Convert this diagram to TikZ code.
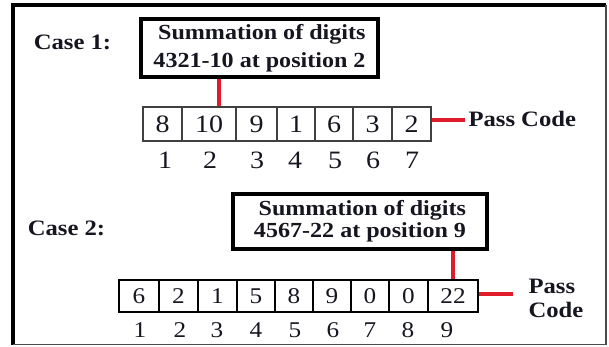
\documentclass[tikz,border=0pt]{standalone}
\usepackage{fontspec}
\setmainfont{Liberation Serif}[FakeStretch=1.12]
\definecolor{lnred}{RGB}{222,28,42}
\definecolor{ink}{RGB}{22,22,32}
\begin{document}
\begin{tikzpicture}[x=1pt,y=-1pt,
  every node/.style={text=ink},
  lbl/.style={font=\fontsize{22}{24}\selectfont\bfseries},
  sumbox/.style={draw=black, line width=3.6pt, align=right, inner sep=0pt},
  cellA/.style={draw=black!75, line width=1.3pt, inner sep=0pt, minimum height=34pt, font=\fontsize{25}{25}\selectfont},
  cellB/.style={draw=black, line width=2pt, inner sep=0pt, minimum height=32pt, font=\fontsize{22.5}{22.5}\selectfont},
  idxA/.style={font=\fontsize{25}{25}\selectfont, inner sep=0pt},
  idxB/.style={font=\fontsize{22.5}{22.5}\selectfont, inner sep=0pt},
  redln/.style={draw=lnred, line width=3.2pt},
]
\useasboundingbox (0,0) rectangle (609,346);
% outer frame
\draw[line width=3.5pt] (13,344.5) -- (13,5) -- (606,5);
\draw[line width=1.2pt, black!70] (13,344.5) -- (606,344.5) -- (606,5);

% ---------- Case 1 ----------
\node[lbl] (case1) at (72.5,42) {Case 1:};
\node[sumbox, minimum width=237pt, minimum height=58pt,
      font=\fontsize{21.5}{28}\selectfont\bfseries] (box1) at (259.5,48)
  {Summation of digits\\4321-10 at position 2};
\foreach \l/\r/\t [count=\i] in {143/182/8,182/236/10,236/277/9,277/315/1,315/353/6,353/392/3,392/431/2} {
  \pgfmathsetmacro\w{\r-\l}
  \pgfmathsetmacro\c{(\l+\r)/2}
  \node[cellA, minimum width=\w pt] (a\i) at (\c,124) {\t};
}
\foreach \x [count=\i] in {165,210,257,295,335,373,412}
  \node[idxA] (na\i) at (\x,160) {\i};
\draw[redln] ([xshift=10pt]a2.north) -- ([xshift=10pt]a2.north |- box1.south);
\node[lbl, anchor=west] (pass1) at (465,119) {Pass Code};
\draw[redln] ([yshift=4pt]a7.east) -- ([yshift=4pt]a7.east -| pass1.west);

% ---------- Case 2 ----------
\node[lbl] (case2) at (66.5,228) {Case 2:};
\node[sumbox, minimum width=254pt, minimum height=55pt,
      font=\fontsize{21.5}{22}\selectfont\bfseries] (box2) at (360,221.5)
  {Summation of digits\\4567-22 at position 9};
\foreach \l/\r/\t [count=\i] in {119/159/6,159/198/2,198/237/1,237/275/5,275/313/8,313/351/9,351/389/0,389/428/0,428/478/22} {
  \pgfmathsetmacro\w{\r-\l}
  \pgfmathsetmacro\c{(\l+\r)/2}
  \node[cellB, minimum width=\w pt] (b\i) at (\c,296) {\t};
}
\foreach \x [count=\i] in {140,180,217,256,295,333,370,408,447}
  \node[idxB] (nb\i) at (\x,330) {\i};
\draw[redln] (b9.north) -- (b9.north |- box2.south);
\node[lbl, anchor=west, align=left] (pass2) at (525,298) {Pass\\Code};
\draw[redln] ([yshift=2pt]b9.east) -- ([yshift=2pt,xshift=-12pt]b9.east -| pass2.west);
\end{tikzpicture}
\end{document}
